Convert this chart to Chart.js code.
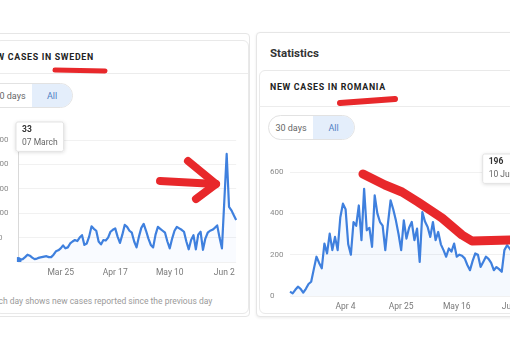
<!DOCTYPE html>
<html><head><meta charset="utf-8">
<script src="https://cdn.jsdelivr.net/npm/chart.js@4.4.1/dist/chart.umd.min.js"></script>
<style>
html,body{margin:0;padding:0;}
body{width:510px;height:360px;overflow:hidden;position:relative;background:#fff;font-family:Roboto,'Noto Sans',sans-serif;}
.abs{position:absolute;}
.box{position:absolute;border:1px solid #e6e6e6;background:#fff;box-sizing:border-box;}
.hdr{position:absolute;font-weight:700;font-size:8.8px;letter-spacing:0.7px;color:#222;white-space:nowrap;}
.sep{position:absolute;height:1px;background:#ececec;}
.pill{position:absolute;height:25px;border:1px solid #e2e2e2;border-radius:13px;box-sizing:border-box;display:flex;overflow:hidden;font-size:9px;}
.pill .a{width:44px;display:flex;align-items:center;justify-content:center;color:#666;}
.pill .b{flex:1;display:flex;align-items:center;justify-content:center;background:#e4eefb;color:#4f7fc4;}
.note{position:absolute;font-size:8.5px;color:#9a9a9a;white-space:nowrap;}
canvas{position:absolute;}
svg{position:absolute;left:0;top:0;}
</style></head><body>

<div class="box" style="left:-5px;top:33px;width:255px;height:284px;border-radius:4px;"></div>
<div class="box" style="left:-5px;top:40px;width:254px;height:274px;border-radius:6px;border-color:#e9e9e9;"></div>
<div class="hdr" style="left:-16px;top:52px;">NEW CASES IN SWEDEN</div>
<div class="sep" style="left:-5px;top:73px;width:253px;"></div>
<div class="pill" style="left:-13px;top:83px;width:86px;"><div class="a">30 days</div><div class="b">All</div></div>
<div class="note" style="left:-11px;top:296px;">Each day shows new cases reported since the previous day</div>

<div class="box" style="left:256px;top:32px;width:270px;height:285px;border-radius:4px;box-shadow:0 1px 3px rgba(0,0,0,0.08);"></div>
<div class="abs" style="left:270px;top:46px;font-weight:700;font-size:11.5px;color:#333;">Statistics</div>
<div class="box" style="left:259px;top:70px;width:270px;height:244px;border-radius:6px;border-color:#e9e9e9;"></div>
<div class="hdr" style="left:270px;top:82px;">NEW CASES IN ROMANIA</div>
<div class="sep" style="left:259px;top:106px;width:260px;"></div>
<div class="pill" style="left:268px;top:115px;width:87px;"><div class="a">30 days</div><div class="b">All</div></div>

<canvas id="swe" width="252" height="165" style="left:-11px;top:115px;width:252px;height:165px;"></canvas>
<canvas id="rou" width="259" height="169" style="left:270px;top:145px;width:259px;height:169px;"></canvas>

<svg width="510" height="360" viewBox="0 0 510 360">
  <g fill="none" stroke="#e8282b" stroke-linecap="round" stroke-linejoin="round">
    <polyline points="55,70 105,71" stroke-width="5"/>
    <polyline points="160,181 216,184" stroke-width="8"/>
    <polyline points="188,161 216,184 196,199" stroke-width="8"/>
    <polyline points="340,103 395,99" stroke-width="6"/>
    <polyline points="363,174 385,185 402,192 418,202 442,218 462,235 472,241 510,240 520,240" stroke-width="9"/>
  </g>
</svg>

<script>
// ---- data ----
const sweStart = '2020-03-07';
const sweValues = [33,50,60,100,150,130,90,60,70,90,100,110,120,100,100,150,220,240,280,340,280,300,380,420,450,430,500,550,350,380,520,730,680,640,420,360,450,440,500,620,660,690,520,390,560,760,720,640,600,420,300,520,700,780,640,480,350,300,560,720,680,640,600,420,280,480,640,720,690,660,620,420,260,450,550,260,560,620,250,480,600,640,660,700,750,500,280,1250,2214,1130,1060,960,860];
const sweTicks = ['Mar 25','Apr 17','May 10','Jun 2'];
const sweYMax = 2500, sweYStep = 500;

const rouStart = '2020-03-14';
const rouValues = [21,13,30,45,35,16,35,58,69,130,190,160,134,254,206,302,222,286,222,380,447,420,250,200,358,340,438,270,519,318,330,238,487,400,358,340,222,350,463,420,366,300,222,366,278,330,358,270,326,165,406,360,334,286,358,270,310,250,222,190,230,215,254,190,200,195,182,150,125,170,206,200,141,165,190,180,160,125,140,130,117,222,246,230,210,240,220,205,196];
const rouTicks = ['Apr 4','Apr 25','May 16','Jun 6'];
const rouYMax = 600, rouYStep = 200;

const MON_S = ['Jan','Feb','Mar','Apr','May','Jun','Jul','Aug','Sep','Oct','Nov','Dec'];
const MON_L = ['January','February','March','April','May','June','July','August','September','October','November','December'];

function dateLabels(start, n){
  const d0 = new Date(start + 'T00:00:00Z');
  const out = [];
  for (let i = 0; i < n; i++) {
    const d = new Date(d0.getTime() + i * 86400000);
    out.push(d.toISOString().slice(0,10));
  }
  return out;
}
function shortFmt(s){ const d = new Date(s+'T00:00:00Z'); return MON_S[d.getUTCMonth()] + ' ' + d.getUTCDate(); }
function longFmt(s){ const d = new Date(s+'T00:00:00Z'); return String(d.getUTCDate()).padStart(2,'0') + ' ' + MON_L[d.getUTCMonth()]; }

Chart.defaults.font.family = 'Roboto';

Chart.Tooltip.positioners.topFixed = function(items){
  if (!items.length) return false;
  return { x: items[0].element.x, y: this.chart.chartArea.top - 18 };
};

const hoverLine = {
  id: 'hoverLine',
  beforeDatasetsDraw(chart){
    const act = chart.getActiveElements();
    if (!act.length) return;
    const x = act[0].element.x, ctx = chart.ctx;
    ctx.save();
    ctx.strokeStyle = '#d9d9d9'; ctx.lineWidth = 1;
    ctx.beginPath(); ctx.moveTo(Math.round(x)+0.5, chart.chartArea.top - 18); ctx.lineTo(Math.round(x)+0.5, chart.chartArea.bottom); ctx.stroke();
    ctx.restore();
  },
  beforeTooltipDraw(chart, args){
    const t = args.tooltip, ctx = chart.ctx;
    if (!t.opacity) return;
    ctx.save();
    ctx.shadowColor = 'rgba(0,0,0,0.18)'; ctx.shadowBlur = 4; ctx.shadowOffsetY = 1;
    ctx.fillStyle = '#fff';
    ctx.fillRect(t.x, t.y, t.width, t.height);
    ctx.restore();
  }
};

function makeChart(id, labels, values, ticks, ymax, ystep, yw, pad, xAlign, fillA){
  return new Chart(document.getElementById(id), {
    type: 'line',
    data: { labels, datasets: [{
      data: values,
      borderColor: '#3f80de', borderWidth: 2.2, borderJoinStyle: 'round',
      backgroundColor: 'rgba(66,133,244,' + fillA + ')', fill: 'origin',
      pointRadius: 0, pointHoverRadius: 3.5, pointHoverBorderWidth: 0,
      pointHoverBackgroundColor: '#3f80de', tension: 0
    }]},
    options: {
      responsive: false, animation: false, events: [],
      layout: { padding: pad },
      plugins: {
        legend: { display: false },
        tooltip: {
          position: 'topFixed', xAlign, yAlign: 'top',
          caretSize: 0, caretPadding: 0, cornerRadius: 2,
          backgroundColor: '#fff', borderColor: '#e3e3e3', borderWidth: 1,
          titleColor: '#333', bodyColor: '#666',
          titleFont: { size: 8.5, weight: 'bold' }, bodyFont: { size: 8.5 },
          titleMarginBottom: 3, padding: { x: 6, y: 3 }, displayColors: false,
          callbacks: {
            title: (items) => String(items[0].raw),
            label: (item) => longFmt(labels[item.dataIndex])
          }
        }
      },
      scales: {
        x: {
          grid: { display: false, drawTicks: false }, border: { display: false },
          ticks: { autoSkip: false, maxRotation: 0, padding: 6, color: '#7a7a7a', font: { size: 8.5 },
            callback: (v, i) => { const s = shortFmt(labels[i]); return ticks.includes(s) ? s : null; } },
          afterFit: (s) => { s.height = 18; }
        },
        y: {
          min: 0, max: ymax,
          grid: { color: '#f1f1f1', drawTicks: false }, border: { display: false },
          ticks: { stepSize: ystep, crossAlign: 'far', color: '#8a8a8a', font: { size: 8 } },
          afterFit: (s) => { s.width = yw; }
        }
      }
    },
    plugins: [hoverLine]
  });
}

function activate(chart, idx){
  const els = [{ datasetIndex: 0, index: idx }];
  chart.setActiveElements(els);
  chart.tooltip.setActiveElements(els, { x: 0, y: 0 });
  chart.update();
}

const sweLabels = dateLabels(sweStart, sweValues.length);
const rouLabels = dateLabels(rouStart, rouValues.length);
const c1 = makeChart('swe', sweLabels, sweValues, sweTicks, sweYMax, sweYStep, 29, { top: 25, right: 4 }, 'left', 0.03);
const c2 = makeChart('rou', rouLabels, rouValues, rouTicks, rouYMax, rouYStep, 20, { top: 27, right: 4 }, 'right', 0.05);
activate(c1, 0);
activate(c2, rouValues.length - 1);
</script>
</body></html>
